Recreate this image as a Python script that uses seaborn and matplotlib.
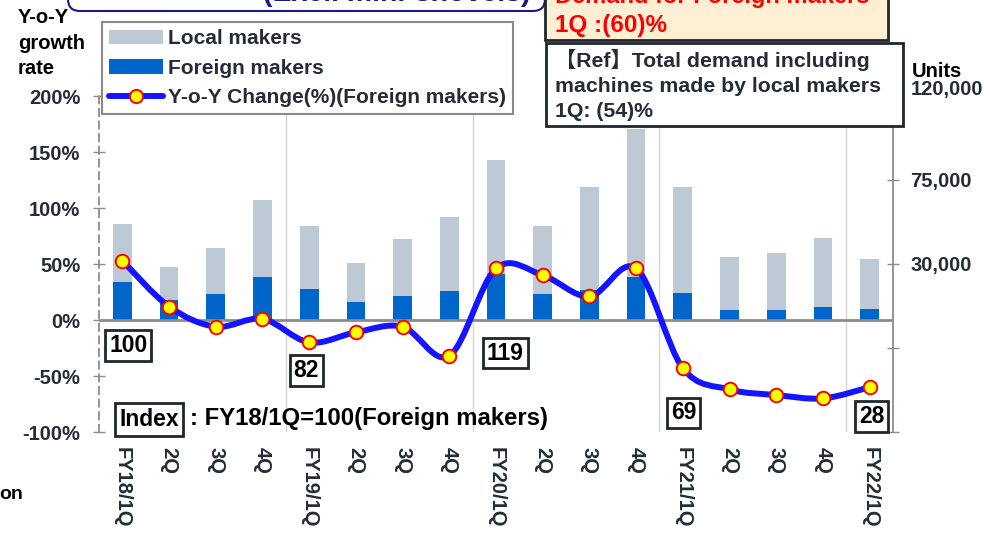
import numpy as np
import pandas as pd
import matplotlib
matplotlib.use("Agg")
import matplotlib.pyplot as plt
import seaborn as sns
from matplotlib.path import Path
from matplotlib.patches import PathPatch, FancyBboxPatch, Rectangle, Patch
from matplotlib.lines import Line2D
from matplotlib.transforms import ScaledTranslation

# ---------------- data ----------------
periods = ["FY18/1Q", "FY18/2Q", "FY18/3Q", "FY18/4Q",
           "FY19/1Q", "FY19/2Q", "FY19/3Q", "FY19/4Q",
           "FY20/1Q", "FY20/2Q", "FY20/3Q", "FY20/4Q",
           "FY21/1Q", "FY21/2Q", "FY21/3Q", "FY21/4Q",
           "FY22/1Q"]
tick_labels = ["FY18/1Q", "2Q", "3Q", "4Q",
               "FY19/1Q", "2Q", "3Q", "4Q",
               "FY20/1Q", "2Q", "3Q", "4Q",
               "FY21/1Q", "2Q", "3Q", "4Q",
               "FY22/1Q"]
foreign_units = [20500, 10900, 14100, 23200, 16600, 9800, 13000, 15700,
                 24600, 14100, 16100, 23200, 14200, 5200, 5200, 7000, 5700]
local_units = [30900, 17700, 24600, 41100, 33900, 20700, 30400, 39300,
               60900, 36300, 55100, 78900, 57000, 28700, 30900, 36800, 26800]
yoy_foreign_pct = [53, 12, -6, 1, -20, -11, -6, -32,
                   46, 40, 21, 46, -43, -62, -67, -70, -60]
index_periods = ["FY18/1Q", "FY19/1Q", "FY20/1Q", "FY21/1Q", "FY22/1Q"]
index_values = [100, 82, 119, 69, 28]
left_ticks = [200, 150, 100, 50, 0, -50, -100]
right_ticks = [120000, 75000, 30000, -15000, -60000]
right_tick_labels = ["120,000", "75,000", "30,000", "", ""]

# ---------------- style ----------------
LOCAL = "#BDC9D5"
FOREIGN = "#0066CC"
LINE = "#1414FF"
TXT = "#262c36"
GRAY = "#8c8c8c"

sns.set_theme(style="white")
plt.rcParams["font.family"] = ["Liberation Sans", "Noto Sans CJK JP", "DejaVu Sans"]
plt.rcParams["font.weight"] = "bold"

W, H = 990, 535
fig = plt.figure(figsize=(W / 100, H / 100), dpi=100)


def fx(x):
    return x / W


def fy(y):
    return 1 - y / H


def inch(x, y):
    return (x / 100, (H - y) / 100)


ax = fig.add_axes([fx(99), fy(432), (893 - 99) / W, (432 - 96) / H])

df = pd.DataFrame({"period": periods, "foreign": foreign_units, "local": local_units})
df["total"] = df["foreign"] + df["local"]

for x in [3.5, 7.5, 11.5, 15.5]:
    ax.axvline(x, color="#d6d6d6", lw=1, zorder=0.5)

sns.barplot(data=df, x="period", y="total", order=periods, color=LOCAL,
            width=0.4, saturation=1, linewidth=0, errorbar=None, ax=ax, zorder=1)
sns.barplot(data=df, x="period", y="foreign", order=periods, color=FOREIGN,
            width=0.4, saturation=1, linewidth=0, errorbar=None, ax=ax, zorder=1.1)
ax.axhline(0, color=GRAY, lw=2, zorder=2)

ax2 = ax.twinx()

# smooth (Excel-like) line for Y-o-Y change
xs = np.arange(len(periods), dtype=float)
ys = np.asarray(yoy_foreign_pct, dtype=float)
P = np.column_stack([xs, ys])
Pe = np.vstack([P[0], P, P[-1]])
verts = [P[0]]
codes = [Path.MOVETO]
for i in range(len(P) - 1):
    p0, p1, p2, p3 = Pe[i], Pe[i + 1], Pe[i + 2], Pe[i + 3]
    verts += [p1 + (p2 - p0) / 6, p2 - (p3 - p1) / 6, p2]
    codes += [Path.CURVE4] * 3
ax2.add_patch(PathPatch(Path(verts, codes), fill=False, edgecolor=LINE,
                        lw=4.3, capstyle="round", joinstyle="round", zorder=3))
sns.scatterplot(x=xs, y=ys, ax=ax2, s=95, color="#FFFF00", edgecolor="#FF0000",
                linewidth=1.4, zorder=4, legend=False)

# axes limits / ticks
ax.set_xlim(-0.5, 16.5)
ax.set_ylim(-60000, 120000)
ax2.set_ylim(-100, 200)
ax.set_xlabel("")
ax.set_ylabel("")
ax2.set_xlabel("")
ax2.set_ylabel("")

ax.set_xticks(range(len(periods)))
ax.set_xticklabels(tick_labels, rotation=270)
ax.tick_params(axis="x", length=0, pad=11, labelsize=14.5, labelcolor=TXT)

ax.yaxis.tick_right()
ax.set_yticks(right_ticks)
ax.set_yticklabels(right_tick_labels)
ax.tick_params(axis="y", direction="inout", length=9, width=1, color=GRAY,
               pad=8, labelsize=14.5, labelcolor=TXT, right=True, left=False,
               labelright=True, labelleft=False)
for lab in ax.get_yticklabels():
    if lab.get_text() == "120,000":
        lab.set_transform(lab.get_transform() + ScaledTranslation(0, 0.09, fig.dpi_scale_trans))

ax2.yaxis.tick_left()
ax2.set_yticks(left_ticks)
ax2.set_yticklabels([f"{v}%" for v in left_ticks])
ax2.tick_params(axis="y", direction="inout", length=9, width=1, color=GRAY,
                pad=9, labelsize=14.5, labelcolor=TXT, left=True, right=False,
                labelleft=True, labelright=False)

for a in (ax, ax2):
    for s in ("top", "bottom"):
        a.spines[s].set_visible(False)
ax.spines["left"].set_visible(False)
ax.spines["right"].set_color(GRAY)
ax.spines["right"].set_linewidth(1.3)
ax2.spines["right"].set_visible(False)
ax2.spines["left"].set_color(GRAY)
ax2.spines["left"].set_linewidth(1.3)
ax2.spines["left"].set_linestyle((0, (4, 3)))
ax.grid(False)
ax2.grid(False)

# index boxes
index_offsets = {"FY18/1Q": (0.13, -23), "FY19/1Q": (-0.06, -45),
                 "FY20/1Q": (0.2, -29.5), "FY21/1Q": (0.02, -83), "FY22/1Q": (0.04, -86)}
for per, val in zip(index_periods, index_values):
    dx, yv = index_offsets[per]
    ax2.text(periods.index(per) + dx, yv, str(val), ha="center", va="center",
             fontsize=16.5, color="black", zorder=6,
             bbox=dict(boxstyle="square,pad=0.17", fc="white", ec="#1f262e", lw=2))

fig.text(fx(149), fy(426), "Index", ha="center", va="baseline", fontsize=16.5,
         color="black", bbox=dict(boxstyle="square,pad=0.2", fc="white", ec="#1f262e", lw=2))
fig.text(fx(190), fy(425), ": FY18/1Q=100(Foreign makers)", ha="left", va="baseline",
         fontsize=17.2, color="black")

# legend
handles = [Patch(facecolor=LOCAL, edgecolor="none"),
           Patch(facecolor=FOREIGN, edgecolor="none"),
           Line2D([], [], color=LINE, lw=4.3, marker="o", markersize=9.5,
                  markerfacecolor="#FFFF00", markeredgecolor="#FF0000", markeredgewidth=1.4)]
leg = ax2.legend(handles, ["Local makers", "Foreign makers", "Y-o-Y Change(%)(Foreign makers)"],
                 loc="upper left", bbox_to_anchor=(fx(102), fy(22)), bbox_transform=fig.transFigure,
                 frameon=True, fancybox=False, framealpha=1, edgecolor="#8a8a8a",
                 fontsize=15, handlelength=2.6, handletextpad=0.2, labelspacing=0.5,
                 borderpad=0.35, borderaxespad=0)
leg.get_frame().set_linewidth(1.5)
for t in leg.get_texts():
    t.set_color(TXT)

# axis titles
fig.text(fx(18), fy(23), "Y-o-Y", fontsize=14.5, color="black", va="baseline")
fig.text(fx(18), fy(49), "growth", fontsize=14.5, color="black", va="baseline")
fig.text(fx(18), fy(74), "rate", fontsize=14.5, color="black", va="baseline")
fig.text(fx(912), fy(77), "Units", fontsize=14.5, color="black", va="baseline")
fig.text(fx(-1), fy(499), "on", fontsize=14, color="black", va="baseline")

# top cut-off boxes (the reference is cropped through them)
fig.add_artist(FancyBboxPatch(inch(68, 11), (545 - 68) / 100, 0.6,
                              boxstyle="round,pad=0,rounding_size=0.12",
                              transform=fig.dpi_scale_trans, fc="white", ec="#1a1a8f", lw=1.5,
                              clip_on=False, zorder=1))
fig.text(fx(397), fy(1), "(Excl. mini-shovels)", ha="center", va="baseline",
         fontsize=20.5, color="#1a1a8f")

fig.add_artist(Rectangle(inch(545, 40), (888 - 545) / 100, 0.6, transform=fig.dpi_scale_trans,
                         fc="#FDEFD4", ec="#1f262e", lw=2, clip_on=False, zorder=1))
fig.text(fx(555), fy(3), "Demand for Foreign makers", ha="left", va="baseline",
         fontsize=17, color="#FF0000")
fig.text(fx(555), fy(32), "1Q :(60)%", ha="left", va="baseline", fontsize=17.5, color="#FF0000")

fig.add_artist(Rectangle(inch(546, 126), (903 - 546) / 100, (126 - 43) / 100,
                         transform=fig.dpi_scale_trans, fc="white", ec="#1f262e", lw=2,
                         clip_on=False, zorder=1))
fig.text(fx(555), fy(67), "【Ref】Total demand including", ha="left", va="baseline",
         fontsize=15.3, color=TXT)
fig.text(fx(555), fy(92), "machines made by local makers", ha="left", va="baseline",
         fontsize=15.3, color=TXT)
fig.text(fx(555), fy(117), "1Q: (54)%", ha="left", va="baseline", fontsize=15.3, color=TXT)

fig.savefig("out.png", dpi=100)
